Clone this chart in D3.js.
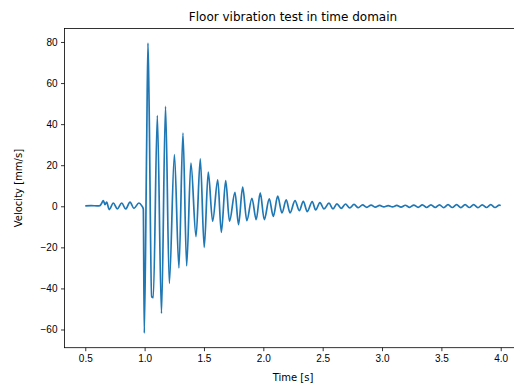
<!DOCTYPE html>
<html>
<head>
<meta charset="utf-8">
<script src="https://cdn.jsdelivr.net/npm/d3@7"></script>
<style>
  body { margin: 0; background: #fff; }
  svg { display: block; font-family: "DejaVu Sans", sans-serif; }
  .axis path, .axis line { stroke: #000; stroke-width: 0.8; }
  .axis text { font-size: 10px; fill: #000; }
</style>
</head>
<body>
<div id="chart"></div>
<script>
// Peaks, troughs and knees of the velocity trace
const times = [
  0.500, 0.550, 0.600, 0.624, 0.638, 0.652, 0.666, 0.680, 0.702, 0.736, 0.770, 0.807,
  0.840, 0.877, 0.910, 0.952, 0.975, 0.989, 0.997, 1.017, 1.028, 1.037, 1.059, 1.073,
  1.107, 1.142, 1.176, 1.208, 1.251, 1.289, 1.323, 1.354, 1.390, 1.433, 1.469, 1.502,
  1.536, 1.573, 1.616, 1.646, 1.683, 1.715, 1.761, 1.791, 1.826, 1.861, 1.904, 1.940,
  1.974, 2.008, 2.050, 2.084, 2.121, 2.157, 2.193, 2.225, 2.267, 2.303, 2.337, 2.370,
  2.412, 2.441, 2.477, 2.511, 2.553, 2.587, 2.620, 2.656, 2.692, 2.728, 2.764, 2.800,
  2.836, 2.872, 2.908, 2.944, 2.980, 3.016, 3.052, 3.088, 3.124, 3.160, 3.196, 3.232,
  3.268, 3.304, 3.340, 3.376, 3.412, 3.448, 3.484, 3.520, 3.556, 3.592, 3.628, 3.664,
  3.700, 3.736, 3.772, 3.808, 3.844, 3.880, 3.916, 3.952, 3.988, 4.000
];
const velocity = [
  0.2, 0.3, 0.2, 0.3, 1.5, 2.8, 0.8, 2.0, -1.6, 1.6, -1.3, 1.6,
  -1.3, 2.0, -1.0, 1.6, 0.3, -1.3, -61.8, 28.8, 79.5, 52.5, -44.0, -44.5,
  44.2, -52.2, 48.6, -37.5, 25.2, -30.0, 35.6, -29.0, 21.0, -14.8, 23.1, -20.0,
  16.6, -7.3, 12.9, -12.7, 12.5, -7.3, 6.8, -8.9, 9.3, -7.0, 3.9, -6.5,
  6.5, -6.5, 3.6, -4.9, 4.9, -3.2, 3.1, -3.2, 2.8, -2.1, 2.4, -2.6,
  2.3, -1.8, 1.8, -1.3, 1.5, -1.3, 1.2, -1.0, 1.1, -0.8, 0.9, -0.7,
  0.7, -0.5, 0.6, -0.4, 0.4, -0.3, 0.3, -0.3, 0.4, -0.4, 0.5, -0.5,
  0.6, -0.5, 0.7, -0.6, 0.7, -0.6, 0.7, -0.7, 0.8, -0.6, 0.8, -0.7,
  0.8, -0.6, 0.8, -0.7, 0.7, -0.6, 0.8, -0.6, 0.6, 0.3
];
const xTicks = [0.5, 1.0, 1.5, 2.0, 2.5, 3.0, 3.5, 4.0];
const yTicks = [-60, -40, -20, 0, 20, 40, 60, 80];

const width = 514, height = 383;
const frame = { left: 64.5, right: 521.5, top: 28.5, bottom: 347.7 };

const svg = d3.select("#chart").append("svg")
  .attr("width", width)
  .attr("height", height);

// matplotlib style 5% margins around the data
const pad = (lo, hi) => [lo - (hi - lo) * 0.05, hi + (hi - lo) * 0.05];
const x = d3.scaleLinear().domain(pad(...d3.extent(times))).range([frame.left, frame.right]);
const y = d3.scaleLinear().domain(pad(...d3.extent(velocity))).range([frame.bottom, frame.top]);

const points = times.map((t, i) => [t, velocity[i]]);

svg.append("path")
  .datum(points)
  .attr("fill", "none")
  .attr("stroke", "#1f77b4")
  .attr("stroke-width", 1.7)
  .attr("stroke-linejoin", "round")
  .attr("d", d3.line().x(d => x(d[0])).y(d => y(d[1])).curve(d3.curveMonotoneX));

// frame (right spine falls outside the cropped figure)
svg.append("rect")
  .attr("x", frame.left).attr("y", frame.top)
  .attr("width", frame.right - frame.left).attr("height", frame.bottom - frame.top)
  .attr("fill", "none").attr("stroke", "#000").attr("stroke-width", 0.8);

svg.append("g")
  .attr("class", "axis")
  .attr("transform", `translate(0,${frame.bottom})`)
  .call(d3.axisBottom(x).tickValues(xTicks).tickFormat(d3.format(".1f"))
    .tickSize(3.5).tickSizeOuter(0).tickPadding(3.5))
  .call(g => g.select(".domain").remove());

svg.append("g")
  .attr("class", "axis")
  .attr("transform", `translate(${frame.left},0)`)
  .call(d3.axisLeft(y).tickValues(yTicks).tickFormat(d3.format("d"))
    .tickSize(3.5).tickSizeOuter(0).tickPadding(3.5))
  .call(g => g.select(".domain").remove());

svg.append("text")
  .attr("x", (frame.left + frame.right) / 2)
  .attr("y", 21)
  .attr("text-anchor", "middle")
  .attr("font-size", 12)
  .text("Floor vibration test in time domain");

svg.append("text")
  .attr("x", (frame.left + frame.right) / 2)
  .attr("y", 381)
  .attr("text-anchor", "middle")
  .attr("font-size", 10)
  .text("Time [s]");

svg.append("text")
  .attr("transform", `translate(22,${(frame.top + frame.bottom) / 2}) rotate(-90)`)
  .attr("text-anchor", "middle")
  .attr("font-size", 10)
  .text("Velocity [mm/s]");
</script>
</body>
</html>
